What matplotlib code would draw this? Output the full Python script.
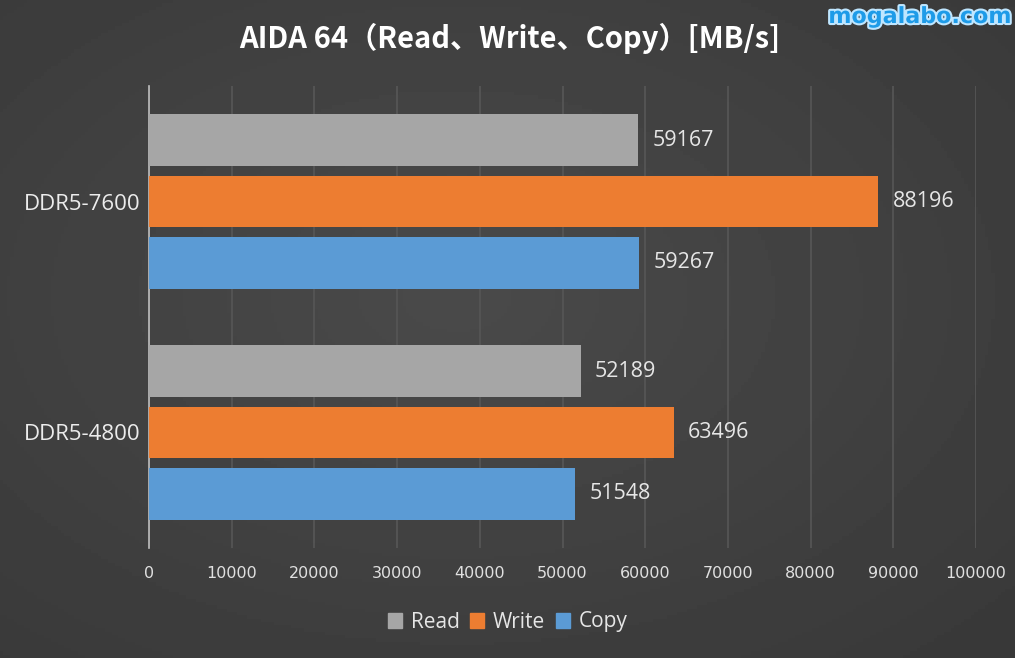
import matplotlib.pyplot as plt
import matplotlib.patheffects as pe
import numpy as np
from matplotlib.patches import Patch

# data
categories = ['DDR5-4800', 'DDR5-7600']
series = ['Read', 'Write', 'Copy']
read = [52189, 59167]
write = [63496, 88196]
copy = [51548, 59267]
colors = ['#a6a6a6', '#ed7d31', '#5b9bd5']
xticks = list(range(0, 100001, 10000))

fig = plt.figure(figsize=(10.15, 6.58), dpi=100)

# background gradient
bg = fig.add_axes([0, 0, 1, 1])
yy, xx = np.mgrid[0:1:200j, 0:1:300j]
grad = 0.29 - 0.09 * np.sqrt((xx - 0.45) ** 2 + (yy - 0.45) ** 2)
bg.imshow(grad, cmap='gray', vmin=0, vmax=1, aspect='auto', extent=[0, 1, 0, 1])
bg.axis('off')

ax = fig.add_axes([149 / 1015, 1 - 548 / 658, (976 - 149) / 1015, (548 - 86) / 658])
ax.patch.set_alpha(0)

h = 0.225
step = 0.266
y = np.arange(len(categories))
for i, (name, vals) in enumerate(zip(series, [read, write, copy])):
    pos = y + (1 - i) * step
    bars = ax.barh(pos, vals, height=h, color=colors[i], label=name, zorder=3)
    for b, v in zip(bars, vals):
        ax.text(v + 1700, b.get_y() + h / 2, str(v), va='center', ha='left',
                color='#e6e6e6', fontsize=15.5, family='Open Sans')

ax.set_xlim(0, 100000)
ax.set_ylim(-0.5, 1.5)
ax.set_xticks(xticks)
ax.set_xticklabels([str(t) for t in xticks], color='#e0e0e0', fontsize=11.5,
                   family=['Liberation Sans Narrow', 'DejaVu Sans'])
ax.set_yticks(y)
ax.set_yticklabels(categories, color='#ececec', fontsize=16, family='Open Sans')
ax.tick_params(axis='x', length=0, pad=13)
ax.tick_params(axis='y', length=0, pad=6)
ax.grid(axis='x', color='#555555', linewidth=1.3, zorder=0)
for s in ['top', 'right', 'bottom']:
    ax.spines[s].set_visible(False)
ax.spines['left'].set_color('#bfbfbf')
ax.spines['left'].set_linewidth(1.2)

handles = [Patch(color=c, label=n) for c, n in zip(colors, series)]
fig.legend(handles=handles, loc='center', bbox_to_anchor=(0.5, 1 - 622 / 658), ncol=3,
           frameon=False, handlelength=0.7, handleheight=0.7, handletextpad=0.4,
           columnspacing=0.5, prop={'family': 'Open Sans', 'size': 15},
           labelcolor='#e6e6e6')

fig.text(0.502, 1 - 38 / 658, 'AIDA 64（Read、Write、Copy）[MB/s]', ha='center', va='center',
         color='white', fontsize=21, fontweight='bold',
         family=['Noto Sans CJK JP', 'DejaVu Sans'])
fig.text(0.997, 1 - 17 / 658, 'mogalabo.com', ha='right', va='center', color='#1e9be8',
         fontsize=16, fontweight='bold', family='DejaVu Sans',
         path_effects=[pe.withStroke(linewidth=3, foreground='#bfe6ff')])

fig.savefig('out.png', dpi=100)
